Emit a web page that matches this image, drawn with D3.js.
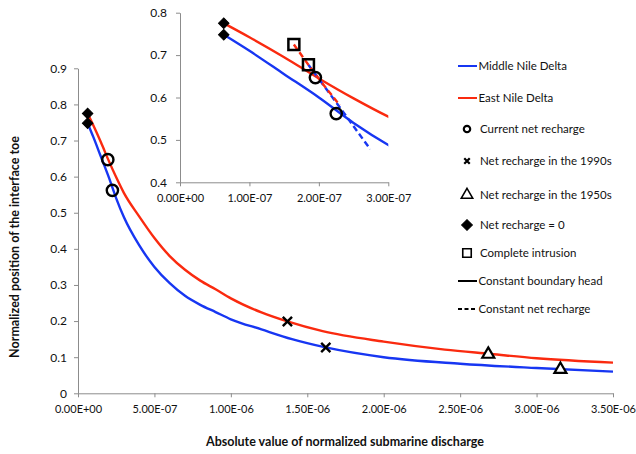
<!DOCTYPE html>
<html lang="en">
<head>
<meta charset="UTF-8">
<script src="https://d3js.org/d3.v7.min.js"></script>
<title>Interface toe</title>
<style>
  body { margin: 0; background: #fff; }
  text { font-family: Lato, "Open Sans", sans-serif; fill: #111; }
  .axis path, .axis line { stroke: #8c8c8c; }
</style>
</head>
<body>
<script>
// curves: [discharge, toe position]
var eastCurve = [
  [0.063e-6, 0.775], [0.1e-6, 0.742], [0.15e-6, 0.695], [0.2e-6, 0.645], [0.25e-6, 0.598],
  [0.3e-6, 0.555], [0.4e-6, 0.49], [0.5e-6, 0.43], [0.6e-6, 0.38], [0.7e-6, 0.342],
  [0.8e-6, 0.312], [0.9e-6, 0.288], [1.0e-6, 0.263], [1.2e-6, 0.224], [1.37e-6, 0.199],
  [1.6e-6, 0.172], [2.0e-6, 0.143], [2.4e-6, 0.121], [2.7e-6, 0.109], [3.0e-6, 0.097], [3.5e-6, 0.085]
];
var middleCurve = [
  [0.063e-6, 0.748], [0.1e-6, 0.71], [0.15e-6, 0.655], [0.2e-6, 0.6], [0.25e-6, 0.54],
  [0.3e-6, 0.488], [0.4e-6, 0.41], [0.5e-6, 0.35], [0.6e-6, 0.305], [0.7e-6, 0.27],
  [0.8e-6, 0.245], [0.9e-6, 0.225], [1.0e-6, 0.205], [1.2e-6, 0.177], [1.4e-6, 0.15],
  [1.62e-6, 0.127], [2.0e-6, 0.1], [2.5e-6, 0.082], [3.0e-6, 0.07], [3.5e-6, 0.06]
];
// constant net recharge (inset only)
var eastDashed = [[1.64e-7, 0.725], [1.95e-7, 0.655], [2.3e-7, 0.582]];
var middleDashed = [[1.85e-7, 0.677], [2.3e-7, 0.577], [2.74e-7, 0.478]];

// markers: [region, discharge, toe]
var currentRecharge = [["east", 0.195e-6, 0.647], ["middle", 0.225e-6, 0.562]];
var recharge1990s = [["east", 1.37e-6, 0.199], ["middle", 1.621e-6, 0.127]];
var recharge1950s = [["east", 2.684e-6, 0.108], ["middle", 3.156e-6, 0.066]];
var rechargeZero = [["east", 0.063e-6, 0.775], ["middle", 0.063e-6, 0.748]];
var completeIntrusion = [["east", 1.64e-7, 0.725], ["middle", 1.85e-7, 0.677]];

var mainXTicks = [0, 0.5e-6, 1e-6, 1.5e-6, 2e-6, 2.5e-6, 3e-6, 3.5e-6];
var mainYTicks = [0, 0.1, 0.2, 0.3, 0.4, 0.5, 0.6, 0.7, 0.8, 0.9];
var insetXTicks = [0, 1e-7, 2e-7, 3e-7];
var insetYTicks = [0.4, 0.5, 0.6, 0.7, 0.8];

var legendLabels = ["Middle Nile Delta", "East Nile Delta", "Current net recharge",
  "Net recharge in the 1990s", "Net recharge in the 1950s", "Net recharge = 0",
  "Complete intrusion", "Constant boundary head", "Constant net recharge"];
var legendKinds = ["blue", "red", "circle", "cross", "triangle", "diamond", "square", "solid", "dashed"];
var legendY = [66, 98, 129, 161, 195, 225, 253, 281, 309];

var colors = { middle: "#1736f2", east: "#fa2a0f" };

var svg = d3.select("body").append("svg").attr("width", 636).attr("height", 454);

function sci(d) {
  if (d === 0) return "0.00E+00";
  var e = Math.floor(Math.log10(d) + 1e-9);
  var m = d / Math.pow(10, e);
  return m.toFixed(2) + "E" + (e < 0 ? "-" : "+") + String(Math.abs(e)).padStart(2, "0");
}

var crossSym = {
  draw: function (ctx, size) {
    var r = Math.sqrt(size) / 2;
    ctx.moveTo(-r, -r); ctx.lineTo(r, r);
    ctx.moveTo(r, -r); ctx.lineTo(-r, r);
  }
};

function drawMarkers(g, xs, ys, inset) {
  var sets = [
    [currentRecharge, d3.symbolCircle, 100, "none", 2.4, 0],
    [recharge1990s, crossSym, 85, "none", 2.4, 0],
    [recharge1950s, d3.symbolTriangle, 62, "#fff", 2.2, 0],
    [rechargeZero, d3.symbolSquare, 55, "#000", 1, 45]
  ];
  if (inset) sets.push([completeIntrusion, d3.symbolSquare, 120, "none", 2.5, 0]);
  sets.forEach(function (s) {
    g.selectAll(null).data(s[0]).enter().append("path")
      .attr("d", d3.symbol().type(s[1]).size(s[2]))
      .attr("transform", function (d) {
        return "translate(" + xs(d[1]) + "," + ys(d[2]) + ") rotate(" + s[5] + ")";
      })
      .attr("fill", s[3]).attr("stroke", "#000").attr("stroke-width", s[4]);
  });
}

// ---- main chart
var x = d3.scaleLinear().domain([0, 3.5e-6]).range([78, 613]);
var y = d3.scaleLinear().domain([0, 0.9]).range([393.3, 68.3]);

svg.append("g").attr("class", "axis")
  .attr("transform", "translate(0," + y(0) + ")")
  .call(d3.axisBottom(x).tickValues(mainXTicks).tickFormat(sci).tickSize(4).tickSizeOuter(0).tickPadding(8))
  .selectAll("text").attr("font-size", 11).style("font-family", "Lato");
svg.append("g").attr("class", "axis")
  .attr("transform", "translate(" + x(0) + ",0)")
  .call(d3.axisLeft(y).tickValues(mainYTicks).tickFormat(d3.format("")).tickSize(4).tickSizeOuter(0).tickPadding(7))
  .selectAll("text").attr("font-size", 12).style("font-family", "Lato");

var line = d3.line().x(function (d) { return x(d[0]); }).y(function (d) { return y(d[1]); }).curve(d3.curveMonotoneX);
svg.append("path").datum(middleCurve).attr("d", line).attr("fill", "none").attr("stroke", colors.middle).attr("stroke-width", 2.4);
svg.append("path").datum(eastCurve).attr("d", line).attr("fill", "none").attr("stroke", colors.east).attr("stroke-width", 2.4);
drawMarkers(svg.append("g"), x, y, false);

svg.append("text").attr("x", 345).attr("y", 446).attr("text-anchor", "middle")
  .attr("font-size", 12.5).attr("font-weight", "bold").text("Absolute value of normalized submarine discharge");
svg.append("text").attr("transform", "translate(19,247) rotate(-90)").attr("text-anchor", "middle")
  .attr("font-size", 12.5).attr("font-weight", "bold").text("Normalized position of the interface toe");

// ---- inset
var ix = d3.scaleLinear().domain([0, 3e-7]).range([180, 388.3]);
var iy = d3.scaleLinear().domain([0.4, 0.8]).range([182.3, 12.7]);

svg.append("defs").append("clipPath").attr("id", "insetClip")
  .append("rect").attr("x", 180).attr("y", 0).attr("width", 208.3).attr("height", 182.3);

svg.append("g").attr("class", "axis")
  .attr("transform", "translate(0," + iy(0.4) + ")")
  .call(d3.axisBottom(ix).tickValues(insetXTicks).tickFormat(sci).tickSize(4).tickSizeOuter(0).tickPadding(8))
  .selectAll("text").attr("font-size", 11).style("font-family", "Lato");
svg.append("g").attr("class", "axis")
  .attr("transform", "translate(" + ix(0) + ",0)")
  .call(d3.axisLeft(iy).tickValues(insetYTicks).tickFormat(d3.format("")).tickSize(4).tickSizeOuter(0).tickPadding(9))
  .selectAll("text").attr("font-size", 12).style("font-family", "Lato");

var iline = d3.line().x(function (d) { return ix(d[0]); }).y(function (d) { return iy(d[1]); }).curve(d3.curveMonotoneX);
var ig = svg.append("g").attr("clip-path", "url(#insetClip)");
ig.append("path").datum(middleCurve).attr("d", iline).attr("fill", "none").attr("stroke", colors.middle).attr("stroke-width", 2.4);
ig.append("path").datum(eastCurve).attr("d", iline).attr("fill", "none").attr("stroke", colors.east).attr("stroke-width", 2.4);
ig.append("path").datum(middleDashed).attr("d", iline).attr("fill", "none").attr("stroke", colors.middle)
  .attr("stroke-width", 2.4).attr("stroke-dasharray", "6,3.5");
ig.append("path").datum(eastDashed).attr("d", iline).attr("fill", "none").attr("stroke", colors.east)
  .attr("stroke-width", 2.4).attr("stroke-dasharray", "6,3.5");
drawMarkers(svg.append("g"), ix, iy, true);

// ---- legend
var lg = svg.append("g");
legendKinds.forEach(function (k, i) {
  var ly = legendY[i];
  var isLine = (k === "blue" || k === "red" || k === "solid" || k === "dashed");
  if (isLine) {
    lg.append("line").attr("x1", 458).attr("x2", 477).attr("y1", ly).attr("y2", ly)
      .attr("stroke", k === "blue" ? colors.middle : k === "red" ? colors.east : "#000")
      .attr("stroke-width", 2).attr("stroke-dasharray", k === "dashed" ? "4,2.5" : null);
  } else {
    var t = { circle: [d3.symbolCircle, 32, "none", 2.2, 0], cross: [crossSym, 30, "none", 2.2, 0],
      triangle: [d3.symbolTriangle, 58, "#fff", 1.5, 0], diamond: [d3.symbolSquare, 58, "#000", 1, 45],
      square: [d3.symbolSquare, 72, "none", 1.6, 0] }[k];
    lg.append("path").attr("d", d3.symbol().type(t[0]).size(t[1]))
      .attr("transform", "translate(467," + ly + ") rotate(" + t[4] + ")")
      .attr("fill", t[2]).attr("stroke", "#000").attr("stroke-width", t[3]);
  }
  lg.append("text").attr("x", isLine ? 478.5 : 480).attr("y", ly).attr("dy", "0.35em")
    .attr("font-size", 11.5).text(legendLabels[i]);
});
</script>
</body>
</html>
